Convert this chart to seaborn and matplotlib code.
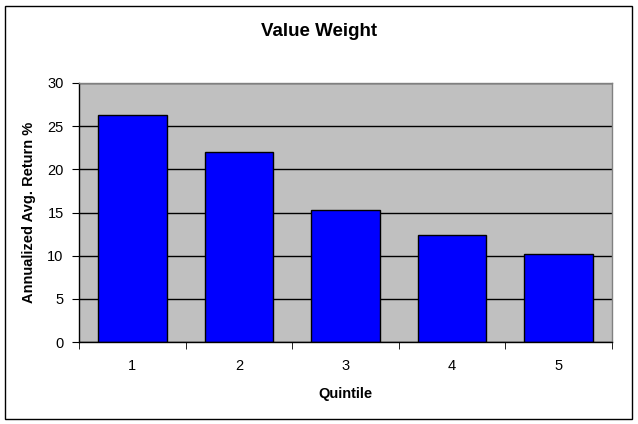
import pandas as pd
import matplotlib
matplotlib.use('Agg')
import matplotlib.pyplot as plt
from matplotlib.patches import Rectangle
from matplotlib.ticker import FixedLocator
import seaborn as sns

quintiles = ['1', '2', '3', '4', '5']
returns = [26.35, 21.95, 15.3, 12.45, 10.25]

df = pd.DataFrame({'Quintile': quintiles, 'Return': returns})

sns.set_style('white')
plt.rcParams['font.family'] = ['Liberation Sans', 'DejaVu Sans']
plt.rcParams['text.color'] = 'black'
plt.rcParams['axes.labelcolor'] = 'black'
plt.rcParams['xtick.color'] = 'black'
plt.rcParams['ytick.color'] = 'black'

fig = plt.figure(figsize=(6.38, 4.24), dpi=100)
ax = fig.add_axes([79 / 638, 82 / 424, (612 - 79) / 638, (342 - 83) / 424])
ax.set_facecolor('#c0c0c0')

sns.barplot(data=df, x='Quintile', y='Return', color='#0000ff', saturation=1,
            width=0.645, edgecolor='black', linewidth=1, ax=ax)

ax.set_xlim(-0.5, 4.5)
ax.set_ylim(0, 30)
ax.set_yticks(range(0, 31, 5))
ax.yaxis.grid(True, color='black', linewidth=1)
ax.set_axisbelow(True)

# tick marks between categories, like the original
ax.xaxis.set_minor_locator(FixedLocator([i - 0.5 for i in range(6)]))
ax.tick_params(axis='x', which='major', length=0, pad=12, labelsize=10.5)
ax.tick_params(axis='x', which='minor', length=5, color='black', direction='out', bottom=True)
ax.tick_params(axis='y', length=5, color='black', direction='out', left=True, labelsize=10.5, pad=6)

for s in ['left', 'bottom']:
    ax.spines[s].set_color('black')
    ax.spines[s].set_linewidth(1)
for s in ['top', 'right']:
    ax.spines[s].set_color('#808080')
    ax.spines[s].set_linewidth(1)

ax.set_xlabel('Quintile', fontsize=10.5, fontweight='bold', labelpad=10)
ax.set_ylabel('Annualized Avg. Return %', fontsize=10.5, fontweight='bold', labelpad=8)
fig.text(0.5, 1 - 32 / 424, 'Value Weight', ha='center', va='center',
         fontsize=13.5, fontweight='bold')

fig.patches.append(Rectangle((5 / 638, 5 / 424), 627 / 638, 413 / 424, transform=fig.transFigure,
                             fill=False, edgecolor='black', linewidth=1))

plt.savefig('out.png', dpi=100)
